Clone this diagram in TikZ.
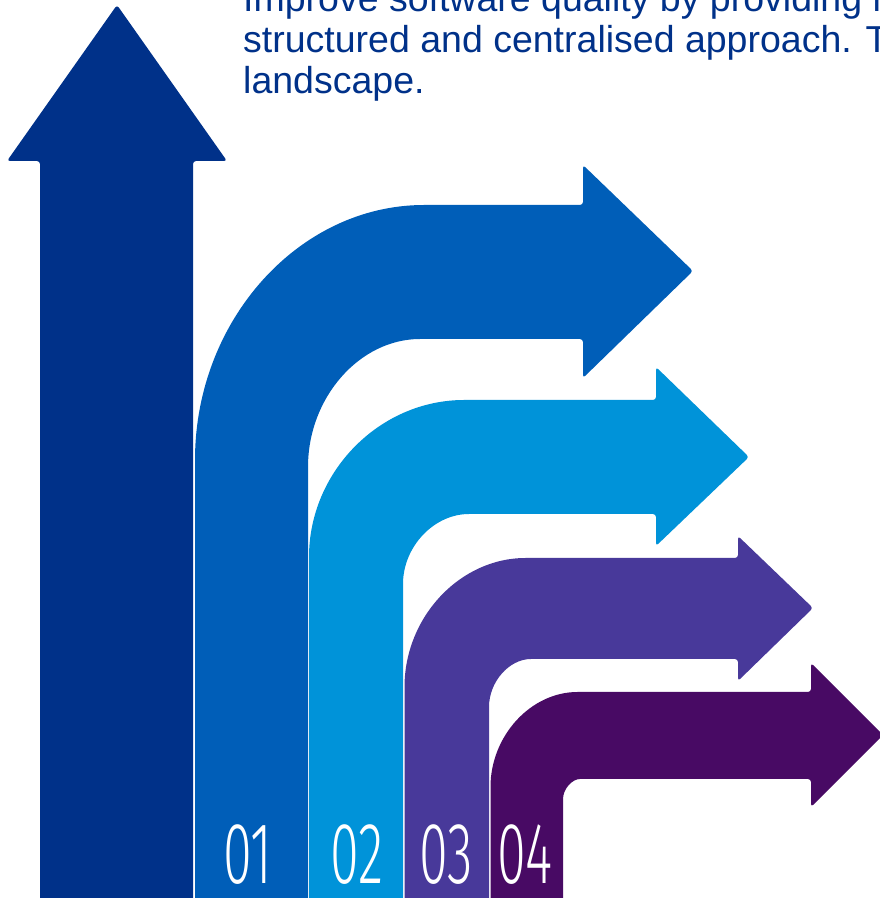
\documentclass[tikz,border=0pt]{standalone}
\usepackage{fontspec}
\setmainfont{Liberation Sans}
\IfFontExistsTF{Fira Sans Light}{\newfontfamily\numfont{Fira Sans Light}}{\newfontfamily\numfont{Liberation Sans}}
\definecolor{navyA}{HTML}{003189}
\definecolor{blueB}{HTML}{005EB8}
\definecolor{blueC}{HTML}{0093D9}
\definecolor{purpD}{HTML}{48399A}
\definecolor{purpE}{HTML}{480A64}
\tikzset{
  arrowshape/.style={rounded corners=3pt, draw=none},
  bodytext/.style={anchor=base west, inner sep=0pt, text=navyA, font=\fontsize{37.5}{37.5}\selectfont},
  numlabel/.style={anchor=base, inner sep=0pt, text=white, xscale=0.6, transform shape, font=\numfont\fontsize{87}{87}\selectfont}
}
\begin{document}
\begin{tikzpicture}[x=1pt,y=1pt]
\useasboundingbox (0,0) rectangle (880,898);
\clip (0,0) rectangle (880,898);
% vertical arrow
\fill[navyA, arrowshape] (40,-10) -- (40,737) -- (7,737) -- (117,893) -- (227,737) -- (193,737) -- (193,-10) -- cycle;
% arrow 1
\fill[blueB, arrowshape] (195,-10) -- (195,435) arc[start angle=180, end angle=90, x radius=232, y radius=258]
  -- (583,693) -- (583,733) -- (693,627) -- (583,520) -- (583,559) -- (423,559)
  arc[start angle=90, end angle=180, x radius=115, y radius=131] -- (308,-10) -- cycle;
% arrow 2
\fill[blueC, arrowshape] (309,-10) -- (309,338) arc[start angle=180, end angle=90, x radius=158, y radius=160]
  -- (656,498) -- (656,531) -- (749,441) -- (656,352) -- (656,384) -- (472,384)
  arc[start angle=90, end angle=180, x radius=69, y radius=73] -- (403,-10) -- cycle;
% arrow 3
\fill[purpD, arrowshape] (404.5,-10) -- (404.5,208) arc[start angle=180, end angle=90, x radius=124, y radius=132]
  -- (738,340) -- (738,362) -- (813,290) -- (738,217) -- (738,239) -- (534,239)
  arc[start angle=90, end angle=180, x radius=45, y radius=51] -- (489,-10) -- cycle;
% arrow 4
\fill[purpE, arrowshape] (490.5,-10) -- (490.5,108) arc[start angle=180, end angle=90, x radius=90, y radius=98]
  -- (811,206) -- (811,235) -- (883,163) -- (811,91) -- (811,119) -- (583,119)
  arc[start angle=90, end angle=180, x radius=20, y radius=23] -- (563,-10) -- cycle;
% text
\node[bodytext] (l1) at (243,886) {Improve software quality by providing r};
\node[bodytext] (l2) at (243,845) {structured and centralised approach. T};
\node[bodytext] (l3) at (243,804) {landscape.};
% numbers
\node[numlabel] (n1) at (248,15) {01};
\node[numlabel] (n2) at (357,15) {02};
\node[numlabel] (n3) at (446,15) {03};
\node[numlabel] (n4) at (525,15) {04};
\end{tikzpicture}
\end{document}
